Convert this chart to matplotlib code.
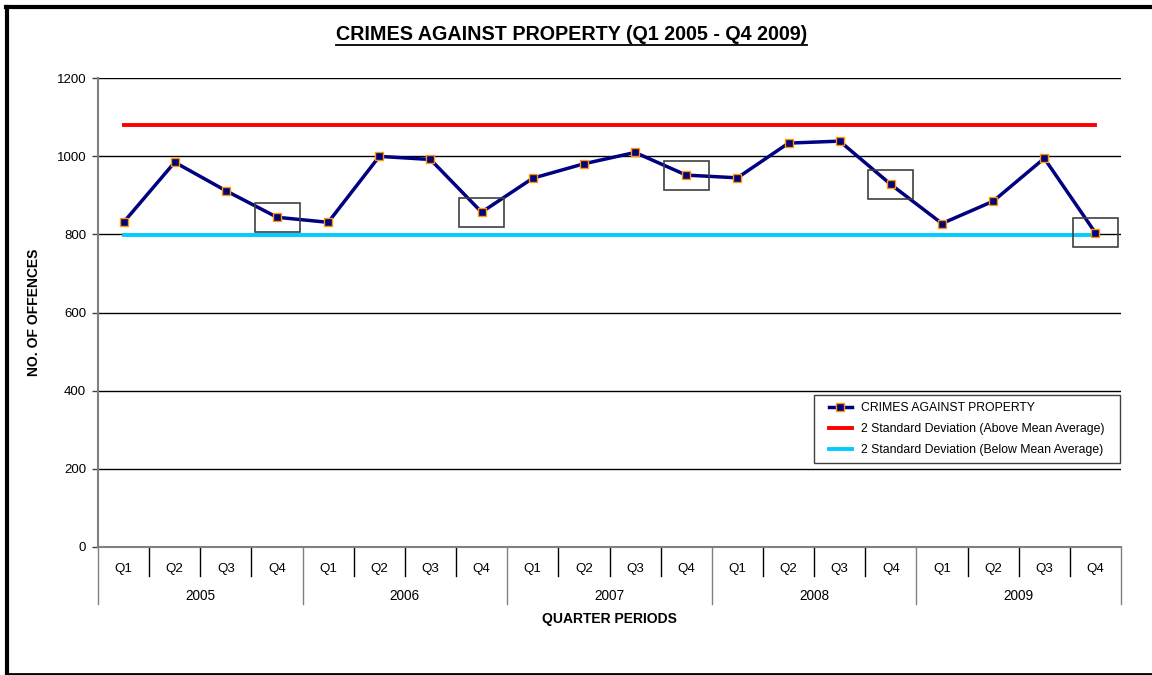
import matplotlib
matplotlib.use("Agg")
import matplotlib.pyplot as plt
import matplotlib.transforms as mtransforms
from matplotlib.lines import Line2D
from matplotlib.patches import Rectangle

plt.rcParams['font.family'] = ['Liberation Sans', 'DejaVu Sans']

# ---- data ----
years = ["2005", "2006", "2007", "2008", "2009"]
quarters = ["Q1", "Q2", "Q3", "Q4"]
offences = [831, 985, 912, 844,
            831, 1000, 992, 857,
            944, 981, 1010, 952,
            945, 1034, 1039, 928,
            828, 885, 995, 804]
upper_2sd = 1080
lower_2sd = 799
highlight_idx = [3, 7, 11, 15, 19]
y_ticks = [0, 200, 400, 600, 800, 1000, 1200]

title = "CRIMES AGAINST PROPERTY (Q1 2005 - Q4 2009)"
series_label = "CRIMES AGAINST PROPERTY"
upper_label = "2 Standard Deviation (Above Mean Average)"
lower_label = "2 Standard Deviation (Below Mean Average)"

W, H = 1152, 675
AX_L, AX_R, AX_T, AX_B = 98, 1121, 78.3, 546.7
fig = plt.figure(figsize=(W / 100, H / 100), dpi=100)
ax = fig.add_axes([AX_L / W, 1 - AX_B / H, (AX_R - AX_L) / W, (AX_B - AX_T) / H])
axw = AX_R - AX_L
axh = AX_B - AX_T

def fx(px):
    return (px - AX_L) / axw

def fy(py):
    return (AX_B - py) / axh

n = len(offences)
x = list(range(n))
ax.set_xlim(-0.5, n - 0.5)
ax.set_ylim(0, 1200)

# gridlines
ax.set_yticks(y_ticks)
ax.yaxis.grid(True, color='black', linewidth=1)
ax.set_axisbelow(True)
ax.tick_params(axis='y', length=4, width=1, color='#404040', labelsize=9.5, pad=4.5)
ax.set_xticks([])
for s in ['top', 'right']:
    ax.spines[s].set_visible(False)
ax.spines['left'].set_color('#808080')
ax.spines['left'].set_linewidth(1.5)
ax.spines['bottom'].set_color('#808080')
ax.spines['bottom'].set_linewidth(1.5)

# SD lines
ax.plot([x[0], x[-1]], [upper_2sd, upper_2sd], color='#FF0000', lw=2.8, label=upper_label, zorder=3)
ax.plot([x[0], x[-1]], [lower_2sd, lower_2sd], color='#00CCFF', lw=2.8, label=lower_label, zorder=3)

# main series
ax.plot(x, offences, color='#000080', lw=2.5, marker='s', markersize=6,
        markerfacecolor='#000080', markeredgecolor='#FF9900', markeredgewidth=1,
        label=series_label, zorder=5)

# highlight boxes around Q4 values
bw, bh = 0.88, 74
for i in highlight_idx:
    ax.add_patch(Rectangle((x[i] - bw / 2, offences[i] - bh / 2), bw, bh,
                           fill=False, edgecolor='#404040', lw=1.2, zorder=6))

# multi-level category axis
trans = mtransforms.blended_transform_factory(ax.transData, ax.transAxes)
for b in range(n + 1):
    xb = b - 0.5
    low = fy(603.5) if b % 4 == 0 else fy(575.5)
    ax.plot([xb, xb], [0, low], transform=trans, color='black' if b % 4 else '#808080',
            lw=1, clip_on=False)
for i in range(n):
    ax.text(x[i], fy(572.3), quarters[i % 4], transform=trans, ha='center', va='baseline',
            fontsize=9.6)
for j, yr in enumerate(years):
    ax.text(4 * j + 1.5, fy(600), yr, transform=trans, ha='center', va='baseline',
            fontsize=9.8)
ax.text(0.5, fy(623), "QUARTER PERIODS", transform=ax.transAxes, ha='center',
        va='baseline', fontsize=10, fontweight='bold')

ax.set_ylabel("NO. OF OFFENCES", fontsize=10, fontweight='bold')
ax.yaxis.set_label_coords(fx(41), 0.5)

# legend (frame drawn separately)
handles, labels = ax.get_legend_handles_labels()
order = [2, 0, 1]
leg = ax.legend([handles[k] for k in order], [labels[k] for k in order],
                loc='upper left', bbox_to_anchor=(fx(829), fy(402)),
                fontsize=8.8, frameon=False, borderaxespad=0, borderpad=0,
                handlelength=1.85, labelspacing=0.74, handletextpad=0.75)
ax.add_patch(Rectangle((fx(813.5), fy(462.7)), fx(1120) - fx(813.5), fy(395) - fy(462.7),
                       transform=ax.transAxes, fill=False, edgecolor='#404040', lw=1,
                       zorder=7, clip_on=False))

# title with underline
t = fig.text(571.5 / W, 1 - 40 / H, title, ha='center', va='baseline', fontsize=14.2,
             fontweight='bold')
fig.canvas.draw()
bb = t.get_window_extent(renderer=fig.canvas.get_renderer())
uy = 1 - 44.5 / H
fig.add_artist(Line2D([bb.x0 / W, bb.x1 / W], [uy, uy], transform=fig.transFigure,
                      color='black', lw=1.3))

# outer frame (left, top, bottom)
fig.add_artist(Line2D([7 / W, 7 / W], [1 - 7 / H, 1 - 674 / H], transform=fig.transFigure,
                      color='black', lw=3))
fig.add_artist(Line2D([5.5 / W, 1], [1 - 7 / H, 1 - 7 / H], transform=fig.transFigure,
                      color='black', lw=3))
fig.add_artist(Line2D([5.5 / W, 1], [1 - 673.8 / H, 1 - 673.8 / H], transform=fig.transFigure,
                      color='black', lw=2))

fig.savefig("out.png", dpi=100)
